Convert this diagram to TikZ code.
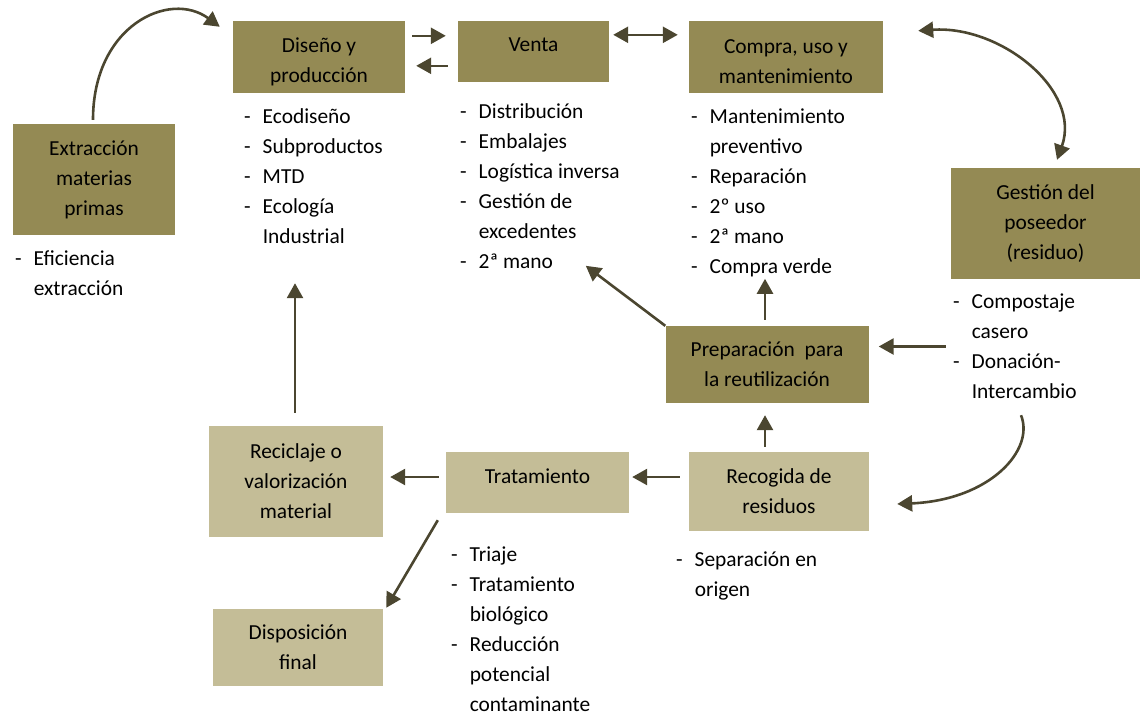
\documentclass[tikz,border=0pt]{standalone}
\usepackage{fontspec}
\setmainfont{Carlito}
\usetikzlibrary{arrows.meta, calc, positioning}
\definecolor{oliva}{HTML}{948A54}
\definecolor{arena}{HTML}{C4BD97}
\definecolor{flecha}{HTML}{4B4630}
\newcommand{\alto}{\rule{0pt}{24pt}}

\begin{document}
\begin{tikzpicture}[
        x=1pt, y=-1pt,
        caja/.style={rectangle, inner sep=0pt, align=center, font=\fontsize{21.4}{30}\selectfont},
        oscura/.style={caja, fill=oliva},
        clara/.style={caja, fill=arena},
        arriba/.style={text depth=13pt},
        lista/.style={anchor=base west, inner sep=0pt, font=\fontsize{21.4}{30}\selectfont},
        flec/.style={draw=flecha, line width=2.6pt, -{Triangle[length=15pt,width=16pt]}},
        flecdoble/.style={draw=flecha, line width=2.6pt, {Triangle[length=15pt,width=16pt]}-{Triangle[length=15pt,width=16pt]}}
      ]
      \useasboundingbox (0,0) rectangle (1140,713);
      \node[oscura, minimum width=172pt, minimum height=72pt] (diseno) at (319,57) {\alto Diseño y\\producción};
      \node[oscura, arriba, minimum width=151pt, minimum height=61pt] (venta) at (533.5,51.5) {Venta};
      \node[oscura, minimum width=194pt, minimum height=72pt] (compra) at (786,57) {\alto Compra, uso y\\mantenimiento};
      \node[oscura, minimum width=162pt, minimum height=111pt] (extr) at (94,179.5) {Extracción\\materias\\primas};
      \node[oscura, minimum width=189pt, minimum height=111pt] (gestion) at (1045.5,223.5) {Gestión del\\poseedor\\(residuo)};
      \node[oscura, minimum width=203pt, minimum height=77pt] (prep) at (767,364.5) {Preparación\ \ para\\la reutilización};
      \node[clara, minimum width=174pt, minimum height=111pt] (recic) at (296,481.5) {Reciclaje o\\valorización\\material};
      \node[clara, arriba, minimum width=183pt, minimum height=61pt] (trat) at (537.5,482.5) {Tratamiento};
      \node[clara, minimum width=180pt, minimum height=79pt] (recog) at (779,491.5) {Recogida de\\residuos};
      \node[clara, minimum width=170pt, minimum height=77pt] (dispo) at (298,647.5) {Disposición\\final};

      \node[lista] (lextr) at (15,265) {\begin{tabular}[t]{@{}l@{\hspace{12pt}}l@{}}
        - & Eficiencia\\ & extracción\end{tabular}};
      \node[lista] (ldiseno) at (244,123) {\begin{tabular}[t]{@{}l@{\hspace{12pt}}l@{}}
        - & Ecodiseño\\ - & Subproductos\\ - & MTD\\ - & Ecología\\ & Industrial\end{tabular}};
      \node[lista] (lventa) at (460,118) {\begin{tabular}[t]{@{}l@{\hspace{12pt}}l@{}}
        - & Distribución\\ - & Embalajes\\ - & Logística inversa\\ - & Gestión de\\ & excedentes\\ - & 2ª mano\end{tabular}};
      \node[lista] (lcompra) at (691,123) {\begin{tabular}[t]{@{}l@{\hspace{12pt}}l@{}}
        - & Mantenimiento\\ & preventivo\\ - & Reparación\\ - & 2º uso\\ - & 2ª mano\\ - & Compra verde\end{tabular}};
      \node[lista] (lgestion) at (953,308) {\begin{tabular}[t]{@{}l@{\hspace{12pt}}l@{}}
        - & Compostaje\\ & casero\\ - & Donación-\\ & Intercambio\end{tabular}};
      \node[lista] (ltrat) at (451,561) {\begin{tabular}[t]{@{}l@{\hspace{12pt}}l@{}}
        - & Triaje\\ - & Tratamiento\\ & biológico\\ - & Reducción\\ & potencial\\ & contaminante\end{tabular}};
      \node[lista] (lrecog) at (676,566) {\begin{tabular}[t]{@{}l@{\hspace{12pt}}l@{}}
        - & Separación en\\ & origen\end{tabular}};

      \draw[flec] ($(extr.north)+(-1,-4)$) .. controls (93,25) and (170,-10) .. ($(diseno.north west)+(-13,6)$);
      \draw[flec] ($(diseno.north east)+(7,15)$) -- ($(venta.north west)+(-12,15)$);
      \draw[flec] ($(venta.north west)+(-10,45)$) -- ($(diseno.north east)+(11,45)$);
      \draw[flecdoble] ($(venta.north east)+(4,14)$) -- ($(compra.north west)+(-11,14)$);
      \draw[flecdoble] ($(compra.north east)+(35,10)$) .. controls (1000,25) and (1082,90) .. ($(gestion.north)+(11.5,-8)$);
      \draw[flec] ($(gestion.south)+(-24.5,136)$) .. controls (1035,450) and (990,500) .. ($(recog.east)+(28,12.5)$);
      \draw[flec] ($(prep.east)+(77,-18)$) -- ($(prep.east)+(10,-18)$);
      \draw[flec] (prep.north west) -- ($(prep.north west)+(-79.5,-60)$);
      \draw[flec] ($(prep.north)+(-2,-6)$) -- ($(prep.north)+(-2,-47)$);
      \draw[flec] ($(recog.north)+(-14,-5)$) -- ($(prep.south)+(-2,12)$);
      \draw[flec] ($(recog.west)+(-9,-14.5)$) -- ($(trat.east)+(3,-5.5)$);
      \draw[flec] ($(trat.west)+(-7,-5.5)$) -- ($(recic.east)+(7,-4.5)$);
      \draw[flec] ($(trat.south west)+(-8,7)$) -- ($(dispo.north east)+(3,-1)$);
      \draw[flec] ($(recic.north)+(-1,-13)$) -- ($(diseno.south)+(-24,190)$);
\end{tikzpicture}
\end{document}
